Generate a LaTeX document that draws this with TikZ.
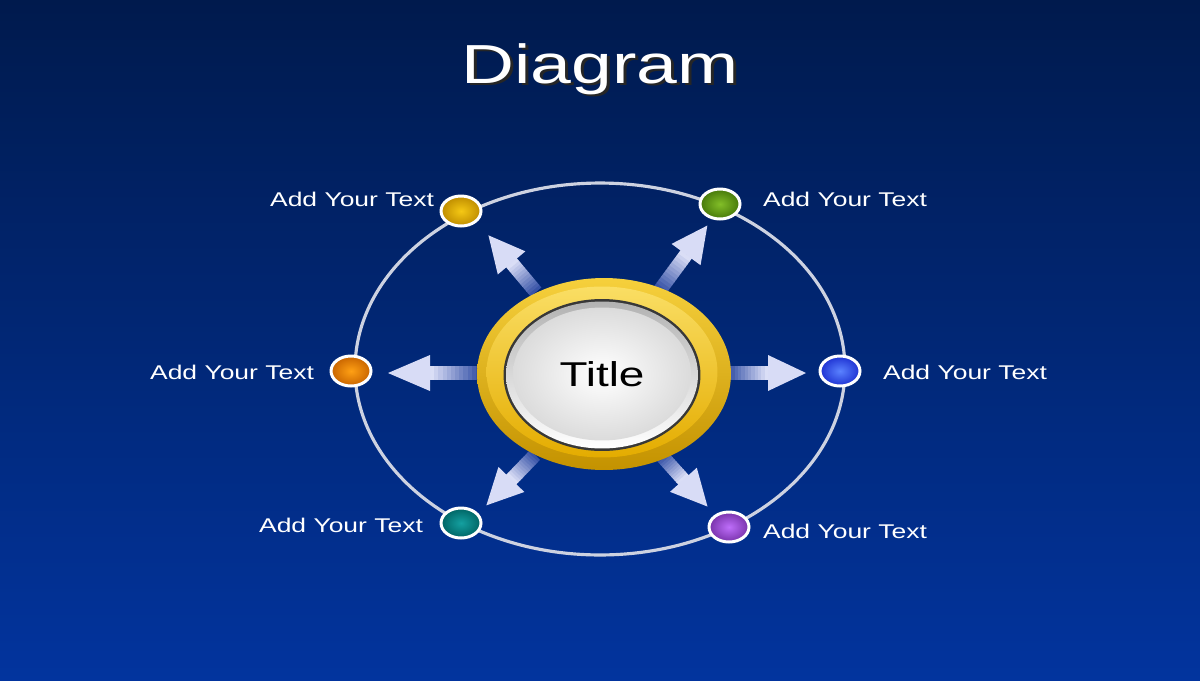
\documentclass[tikz,border=0pt]{standalone}
\usepackage{fontspec}
\usepackage{graphicx}
\setmainfont{Liberation Sans}
\usetikzlibrary{shapes.geometric}
\definecolor{bgtop}{RGB}{0,26,77}
\definecolor{bgbot}{RGB}{2,52,158}
\definecolor{ringline}{RGB}{205,210,225}
\definecolor{lav}{RGB}{225,228,250}
\definecolor{arrowbase}{RGB}{40,70,160}
\definecolor{goldA}{RGB}{246,208,60}
\definecolor{goldB}{RGB}{196,146,0}
\definecolor{goldC}{RGB}{250,222,100}
\definecolor{goldD}{RGB}{228,172,0}
\newcommand\stretchtext[1]{\scalebox{1.333}[1]{#1}}
\newcommand\radarrow[4]{%
\begin{scope}[shift={(#1)}, rotate=#2]
  \pgfmathsetmacro\shl{#3-#4}
  \foreach \i in {0,...,11}{%
    \pgfmathsetmacro\xa{\shl*\i/12}
    \pgfmathsetmacro\xb{\shl*(\i+1)/12+0.6}
    \pgfmathtruncatemacro\mx{8*\i+8}
    \fill[lav!\mx!arrowbase] (\xa,-7) -- (\xb,-7) -- (\xb,7) -- (\xa,7) -- cycle;
  }
  \fill[lav!95!arrowbase] (\shl,-18) -- (#3,0) -- (\shl,18) -- cycle;
\end{scope}}
\tikzset{
  dot/.style={ellipse, minimum width=0.8cm, minimum height=0.6cm, inner sep=0pt,
    draw=white, line width=1.7pt},
  lab/.style={text=white, font=\fontsize{11.3}{13}\selectfont, inner sep=0pt},
}
\begin{document}
\begin{tikzpicture}[x=0.02cm, y=-0.02cm]
\useasboundingbox (0,0) rectangle (1200,680);
\shade[top color=bgtop, bottom color=bgbot] (0,0) rectangle (1200,680);

% title (with its drop shadow)
\node[text=white, font=\fontsize{31.3}{34}\selectfont, anchor=base] (ttl) at (600,83)
  {\stretchtext{\rlap{\hspace{1.3pt}\raisebox{-1.3pt}{\color{black!85}Diagram}}Diagram}};

% big ring
\node[ellipse, draw=ringline, line width=1.8pt, minimum width=9.8cm, minimum height=7.44cm, inner sep=0pt] (ring) at (600,369) {};

% arrows
\coordinate (t1) at (536,292);
\coordinate (t2) at (660,290);
\coordinate (t3) at (480,373);
\coordinate (t4) at (728,373);
\coordinate (t5) at (535,455);
\coordinate (t6) at (662,456);
\radarrow{t1}{130}{74}{36}
\radarrow{t2}{53.7}{80}{36}
\radarrow{t3}{180}{92}{42}
\radarrow{t4}{0}{78}{38}
\radarrow{t5}{226}{70}{36}
\radarrow{t6}{-48}{68}{36}

% center button
\node[ellipse, minimum width=5.08cm, minimum height=3.84cm, inner sep=0pt,
  top color=goldA, bottom color=goldB] (gold) at (604,374) {};
\node[ellipse, minimum width=4.62cm, minimum height=3.42cm, inner sep=0pt,
  top color=goldC, bottom color=goldD] (goldin) at (602,372) {};
\node[ellipse, minimum width=3.94cm, minimum height=3.04cm, inner sep=0pt,
  fill=black!78] (rim) at (602,375) {};
\node[ellipse, minimum width=3.84cm, minimum height=2.94cm, inner sep=0pt,
  top color=black!30, bottom color=white] (bevel) at (602,375) {};
\node[ellipse, minimum width=3.56cm, minimum height=2.66cm, inner sep=0pt,
  inner color=white, outer color=black!14,
  font=\fontsize{19.6}{22}\selectfont, text=black] (title) at (602,374) {\stretchtext{Title}};

% small nodes
\node[dot, inner color={rgb,255:red,245;green,200;blue,20}, outer color={rgb,255:red,190;green,140;blue,0}] (n1) at (461,211) {};
\node[dot, inner color={rgb,255:red,130;green,190;blue,40}, outer color={rgb,255:red,70;green,120;blue,10}] (n2) at (720,204) {};
\node[dot, inner color={rgb,255:red,255;green,160;blue,20}, outer color={rgb,255:red,200;green,100;blue,0}] (n3) at (351,371) {};
\node[dot, inner color={rgb,255:red,90;green,130;blue,255}, outer color={rgb,255:red,30;green,50;blue,210}] (n4) at (840,371) {};
\node[dot, inner color={rgb,255:red,20;green,160;blue,160}, outer color={rgb,255:red,0;green,100;blue,100}] (n5) at (461,523) {};
\node[dot, inner color={rgb,255:red,190;green,110;blue,250}, outer color={rgb,255:red,120;green,50;blue,170}] (n6) at (729,527) {};

% labels
\node[lab] (l1) at (352,199) {\stretchtext{Add Your Text}};
\node[lab] (l2) at (845,199) {\stretchtext{Add Your Text}};
\node[lab] (l3) at (232,372) {\stretchtext{Add Your Text}};
\node[lab] (l4) at (965,372) {\stretchtext{Add Your Text}};
\node[lab] (l5) at (341,525) {\stretchtext{Add Your Text}};
\node[lab] (l6) at (845,531) {\stretchtext{Add Your Text}};
\end{tikzpicture}
\end{document}
